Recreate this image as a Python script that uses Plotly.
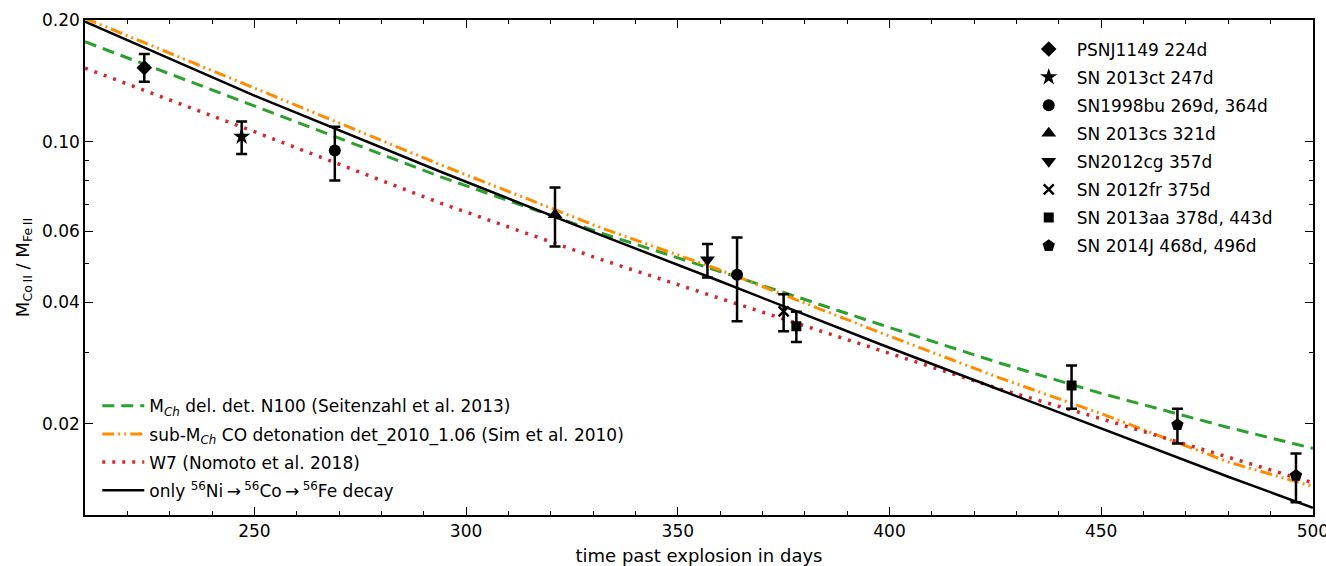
import math
import plotly.graph_objects as go

# ---------------- data ----------------
days_model = [210, 250, 294, 332, 360, 398, 426, 450, 480, 500]
decay_only = [0.198, 0.130, 0.0842, 0.0586, 0.0451, 0.03145, 0.0243, 0.0195, 0.0148, 0.0124]
n100_model = [0.1767, 0.1225, 0.0818, 0.0593, 0.0477, 0.0352, 0.0283, 0.0238, 0.0196, 0.0174]
subch_model = [0.202, 0.1355, 0.0876, 0.0611, 0.0481, 0.0336, 0.0260, 0.0212, 0.0161, 0.0140]
w7_model = [0.152, 0.1058, 0.0704, 0.0510, 0.0409, 0.0303, 0.0244, 0.0206, 0.0166, 0.0143]

sn_labels = ["PSNJ1149 224d", "SN 2013ct 247d", "SN1998bu 269d, 364d", "SN 2013cs 321d",
             "SN2012cg 357d", "SN 2012fr 375d", "SN 2013aa 378d, 443d", "SN 2014J 468d, 496d"]
sn_days = [[224], [247], [269, 364], [321], [357], [375], [378, 443], [468, 496]]
sn_ratio = [[0.1524], [0.1029], [0.0950, 0.0468], [0.0659], [0.0510], [0.0380],
            [0.0349, 0.0249], [0.0199, 0.0149]]
sn_upper = [[0.1648], [0.1121], [0.1089, 0.0579], [0.0770], [0.0558], [0.0419],
            [0.0379, 0.0279], [0.0218, 0.0169]]
sn_lower = [[0.1407], [0.0932], [0.0801, 0.0359], [0.0550], [0.0461], [0.0339],
            [0.0319, 0.0218], [0.0179, 0.0128]]
sn_symbols = ["diamond", "star", "circle", "triangle-up", "triangle-down", "x-thin",
              "square", "pentagon"]
sn_sizes = [12, 13, 12, 13, 13, 10, 10, 13]

model_labels = [
    "M<sub><i>Ch</i></sub> del. det. N100 (Seitenzahl et al. 2013)",
    "sub-M<sub><i>Ch</i></sub> CO detonation det_2010_1.06 (Sim et al. 2010)",
    "W7 (Nomoto et al. 2018)",
    "only <sup>56</sup>Ni\u2009\u2192\u2009<sup>56</sup>Co\u2009\u2192\u2009<sup>56</sup>Fe decay",
]
model_values = [n100_model, subch_model, w7_model, decay_only]
model_colors = ["#2ca02c", "#ff8c00", "#d62728", "#000000"]
model_dash = ["12px,7px", "12px,4px,2px,4px,2px,4px", "3px,7px", "solid"]
model_width = [3, 3, 3.5, 2.5]

y_tickvals = [0.02, 0.04, 0.06, 0.1, 0.2]
y_ticktext = ["0.02", "0.04", "0.06", "0.10", "0.20"]
y_minorvals = [0.03, 0.05, 0.07, 0.08, 0.09]
x_tickvals = [250, 300, 350, 400, 450, 500]

FONT = "DejaVu Sans"

fig = go.Figure()

# model lines
for lab, vals, col, dash, w in zip(model_labels, model_values, model_colors, model_dash, model_width):
    fig.add_trace(go.Scatter(
        x=days_model, y=vals, mode="lines", name=lab,
        line=dict(color=col, dash=dash, width=w),
        legend="legend2", legendgroup=lab,
    ))

# data points
for lab, xs, ys, hi, lo, sym, sz in zip(sn_labels, sn_days, sn_ratio, sn_upper, sn_lower,
                                        sn_symbols, sn_sizes):
    fig.add_trace(go.Scatter(
        x=xs, y=ys, mode="markers", name=lab,
        marker=dict(symbol=sym, size=sz, color="black",
                    line=dict(color="black", width=2.5 if sym == "x-thin" else 0)),
        error_y=dict(type="data", symmetric=False,
                     array=[h - y for h, y in zip(hi, ys)],
                     arrayminus=[y - l for l, y in zip(lo, ys)],
                     color="black", thickness=2.5, width=5.5),
        legend="legend", legendgroup=lab,
    ))

axis_common = dict(
    showline=True, linecolor="black", linewidth=1.5, mirror="allticks",
    ticks="inside", ticklen=8, tickwidth=1.3, tickcolor="black",
    showgrid=False, zeroline=False, automargin=False,
    tickfont=dict(family=FONT, size=17, color="black"),
)

fig.update_xaxes(
    **axis_common,
    range=[210, 500.02], tickvals=x_tickvals, ticklabeloverflow="allow",
    minor=dict(dtick=10, tick0=210, ticks="inside", ticklen=4, tickwidth=1.2, tickcolor="black"),
    title=dict(text="time past explosion in days", standoff=13,
               font=dict(family=FONT, size=18, color="black")),
)
fig.update_yaxes(
    **axis_common,
    type="log", range=[math.log10(0.0119), math.log10(0.2)],
    tickvals=y_tickvals, ticktext=y_ticktext, ticklabeloverflow="allow",
    minor=dict(tickvals=y_minorvals, ticks="inside", ticklen=4, tickwidth=1.2, tickcolor="black"),
    title=dict(text="M<sub>Co\u2009II</sub> / M<sub>Fe\u2009II</sub>", standoff=8,
               font=dict(family=FONT, size=18, color="black")),
)

fig.update_layout(
    width=1326, height=566,
    margin=dict(l=85, r=13, t=20, b=51),
    plot_bgcolor="white", paper_bgcolor="white",
    font=dict(family=FONT, size=17, color="black"),
    legend=dict(x=0.762, y=0.977, xanchor="left", yanchor="top",
                bgcolor="rgba(0,0,0,0)", borderwidth=0,
                font=dict(family=FONT, size=17, color="black"),
                itemwidth=46, tracegroupgap=3, traceorder="grouped"),
    legend2=dict(x=0.010, y=0.256, xanchor="left", yanchor="top",
                 bgcolor="rgba(0,0,0,0)", borderwidth=0,
                 font=dict(family=FONT, size=17, color="black"),
                 itemwidth=42, tracegroupgap=3, traceorder="grouped"),
    showlegend=True,
)

fig.write_html("out.html", config={"displayModeBar": False},
               post_script="document.body.style.margin='0';document.body.style.overflow='hidden';")
